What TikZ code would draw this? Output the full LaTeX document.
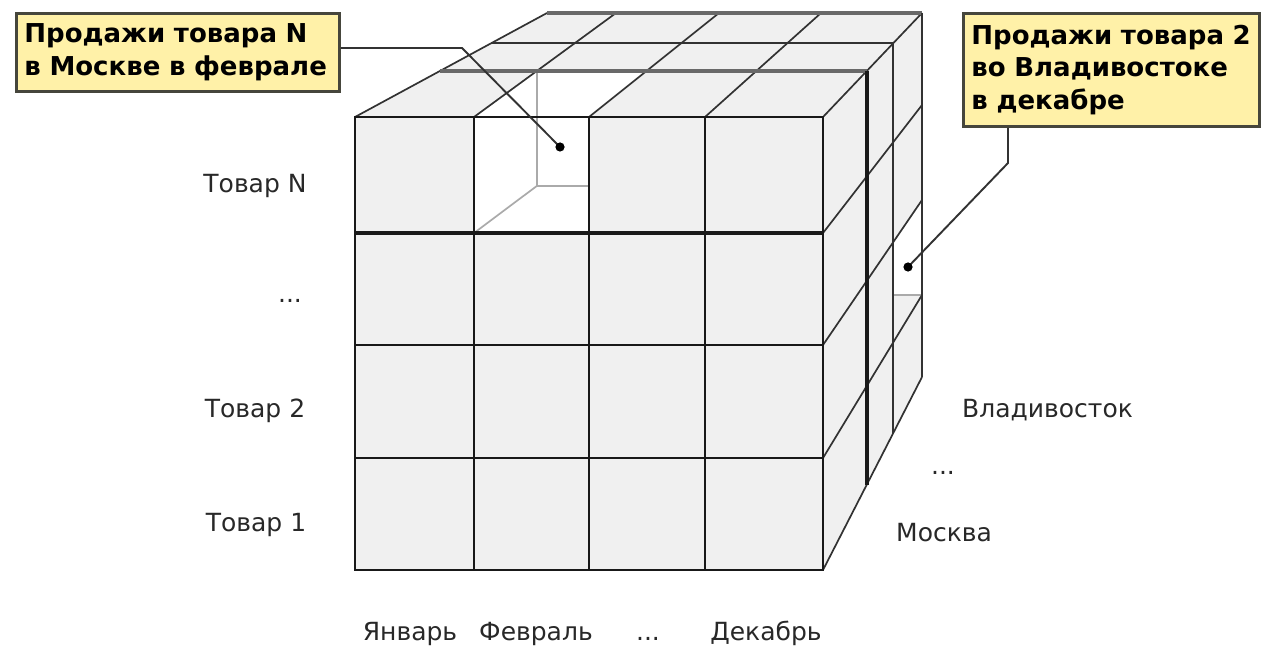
\documentclass[tikz,border=0pt]{standalone}
\usepackage{fontspec}
\setmainfont{DejaVu Sans}
\usetikzlibrary{calc}
\definecolor{cellgray}{RGB}{240,240,240}
\definecolor{calloutfill}{RGB}{255,241,168}
\definecolor{calloutdraw}{RGB}{70,70,60}
\definecolor{linedark}{RGB}{25,25,25}
\definecolor{recedegray}{RGB}{50,50,50}
\definecolor{layergray}{RGB}{105,105,105}
\definecolor{cavitygray}{RGB}{170,170,170}
\definecolor{labelgray}{RGB}{40,40,40}
\begin{document}
\begin{tikzpicture}[x=1pt,y=-1pt,
  frontline/.style={draw=linedark,line width=2.4},
  boldrow/.style={draw=linedark,line width=3.2},
  recede/.style={draw=recedegray,line width=1.7},
  layerthick/.style={draw=layergray,line width=4.2},
  layerthin/.style={draw=recedegray,line width=1.9},
  sidethick/.style={draw=linedark,line width=3.6},
  sidethin/.style={draw=recedegray,line width=2.0},
  cavity/.style={draw=cavitygray,line width=1.7},
  conn/.style={draw=recedegray,line width=1.9},
  callout/.style={draw=calloutdraw,line width=2.8,fill=calloutfill,inner xsep=8pt,inner ysep=0pt,
    align=left,font=\bfseries\fontsize{26}{32.5}\selectfont,text=black},
  lbl/.style={inner sep=0pt,font=\fontsize{25}{30}\selectfont,text=labelgray},
  dotmark/.style={fill=black}]
\useasboundingbox[fill=white] (0,0) rectangle (1261,647);
\def\ta{0.442}
\def\tb{0.7115}
% front top points and back top points
\coordinate (F0) at (355,117);
\coordinate (F1) at (474,117);
\coordinate (F2) at (589,117);
\coordinate (F3) at (705,117);
\coordinate (F4) at (823,117);
\coordinate (B0) at (547,13);
\coordinate (B1) at (616,13);
\coordinate (B2) at (719,13);
\coordinate (B3) at (821,13);
\coordinate (B4) at (922,13);
% right face front and back points
\coordinate (R1) at (823,233);
\coordinate (R2) at (823,345);
\coordinate (R3) at (823,458);
\coordinate (R4) at (823,570);
\coordinate (S1) at (922,105);
\coordinate (S2) at (922,200);
\coordinate (S3) at (922,295);
\coordinate (S4) at (922,377);
% faces
\fill[cellgray] (F0) -- (F4) -- (B4) -- (B0) -- cycle;
\fill[cellgray] (F4) -- (B4) -- (S4) -- (R4) -- cycle;
\fill[cellgray] (F0) rectangle (R4);
% cut cell on the front/top
\fill[white] (474,117) rectangle (589,233);
\fill[white] (F1) -- (F2) -- ($(F2)!\ta!(B2)$) -- ($(F1)!\ta!(B1)$) -- cycle;
\coordinate (CT) at ($(F1)!\ta!(B1)$);
\coordinate (CB) at (CT |- 0,186);
\draw[cavity] (CT) -- (CB) -- (589,186);
\draw[cavity] (CB) -- (474,233);
% cut cell on the right face
\coordinate (O1) at ($(R2)!\tb!(S2)$);
\coordinate (O2) at ($(R3)!\tb!(S3)$);
\fill[white] (O1) -- (S2) -- (S3) -- (O2) -- cycle;
\fill[cellgray] (O1 |- S3) -- (S3) -- (O2) -- cycle;
\draw[cavity] (O1 |- S3) -- (S3);
% top face receding lines
\foreach \i in {0,...,4}{\draw[recede] (F\i) -- (B\i);}
% top face layer lines
\draw[layerthick] ($(F0)!\ta!(B0)$) -- ($(F4)!\ta!(B4)$);
\draw[layerthin] ($(F0)!\tb!(B0)$) -- ($(F4)!\tb!(B4)$);
\draw[layerthick] (B0) -- (B4);
% right face
\foreach \i in {1,2,3}{\draw[recede] (R\i) -- (S\i);}
\draw[recede] (R4) -- (S4);
\draw[sidethick] ($(F4)!\ta!(B4)$) -- ($(R4)!\ta!(S4)$);
\draw[sidethin] ($(F4)!\tb!(B4)$) -- ($(R4)!\tb!(S4)$);
\draw[sidethin] (B4) -- (S4);
% front grid
\draw[frontline] (F0) rectangle (R4);
\draw[frontline] (474,117) -- (474,570);
\draw[frontline] (589,117) -- (589,570);
\draw[frontline] (705,117) -- (705,570);
\draw[boldrow] (355,233) -- (823,233);
\draw[frontline] (355,345) -- (823,345);
\draw[frontline] (355,458) -- (823,458);
% callouts
\node[callout,anchor=north west,minimum width=323,minimum height=78,text width=307] (C1) at (15,12)
  {Продажи товара N\\в Москве в феврале};
\node[callout,anchor=north west,minimum width=296,minimum height=113,text width=280] (C2) at (962,12)
  {Продажи товара 2\\во Владивостоке\\в декабре};
\coordinate (E1) at (462,48);
\coordinate (D1) at (560,147);
\draw[conn] (C1.east |- E1) -- (E1) -- (D1);
\fill[dotmark] (D1) circle (4.6);
\coordinate (E2) at (1008,163);
\coordinate (D2) at (908,267);
\draw[conn] (C2.south -| E2) -- (E2) -- (D2);
\fill[dotmark] (D2) circle (4.6);
% labels
\node[lbl,anchor=base] (tN) at (255,193) {Товар N};
\node[lbl,anchor=base] (tdots) at (290,302) {...};
\node[lbl,anchor=base] (t2) at (255,417) {Товар 2};
\node[lbl,anchor=base] (t1) at (256,531) {Товар 1};
\node[lbl,anchor=base] (m1) at (410,640) {Январь};
\node[lbl,anchor=base] (m2) at (536,640) {Февраль};
\node[lbl,anchor=base] (mdots) at (648,640) {...};
\node[lbl,anchor=base] (m12) at (766,640) {Декабрь};
\node[lbl,anchor=base west] (cV) at (962,417) {Владивосток};
\node[lbl,anchor=base] (cdots) at (943,474) {...};
\node[lbl,anchor=base west] (cM) at (896,541) {Москва};
\end{tikzpicture}
\end{document}
